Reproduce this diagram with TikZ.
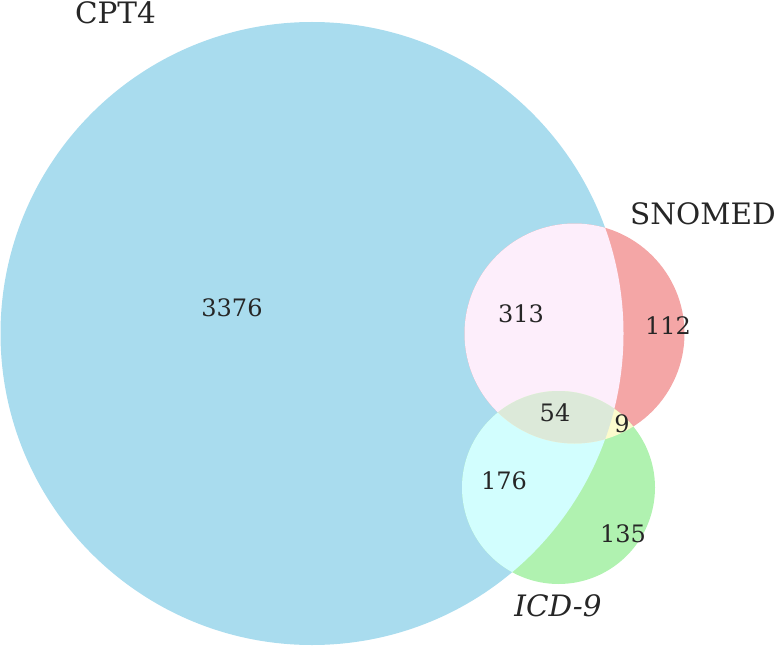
\documentclass[tikz,border=0pt]{standalone}
\usepackage{fontspec}
\setmainfont{DejaVu Serif}
\definecolor{cptc}{HTML}{A9DCEE}
\definecolor{snoc}{HTML}{F4A6A6}
\definecolor{icdc}{HTML}{B0F2B0}
\definecolor{cpsn}{HTML}{FDEEFB}
\definecolor{cpic}{HTML}{D2FEFE}
\definecolor{snic}{HTML}{FCFBCD}
\definecolor{allc}{HTML}{DCE9D9}
\definecolor{txtc}{HTML}{262626}
\tikzset{
  setlabel/.style={inner sep=0pt, anchor=center, text=txtc, font=\fontsize{29.5}{32}\selectfont},
  numlabel/.style={inner sep=0pt, anchor=center, text=txtc, font=\fontsize{24}{26}\selectfont}
}
\begin{document}
\begin{tikzpicture}[x=1pt,y=-1pt]
\useasboundingbox (0,0) rectangle (776,647);
\def\cptcirc{(312,333.5) circle[radius=311.5]}
\def\snocirc{(574.5,333.5) circle[radius=110]}
\def\icdcirc{(558.5,487.5) circle[radius=96.5]}
% base circles
\fill[cptc] \cptcirc;
\fill[snoc] \snocirc;
\fill[icdc] \icdcirc;
% pairwise
\begin{scope}
  \clip \cptcirc;
  \fill[cpsn] \snocirc;
  \fill[cpic] \icdcirc;
\end{scope}
\begin{scope}
  \clip \snocirc;
  \fill[snic] \icdcirc;
\end{scope}
% triple
\begin{scope}
  \clip \cptcirc;
  \clip \snocirc;
  \fill[allc] \icdcirc;
\end{scope}
% labels
\node[setlabel] (cpt) at (115.5,13) {CPT4};
\node[setlabel] (sno) at (703,214) {SNOMED};
\node[setlabel, font=\fontsize{29.5}{32}\selectfont\itshape] (icd) at (558,606) {ICD-9};
\node[numlabel] (n3376) at (232,308) {3376};
\node[numlabel] (n313) at (521,314) {313};
\node[numlabel] (n112) at (668,326) {112};
\node[numlabel] (n54) at (555,413) {54};
\node[numlabel] (n9) at (622,424) {9};
\node[numlabel] (n176) at (504,481) {176};
\node[numlabel] (n135) at (623,534) {135};
\end{tikzpicture}
\end{document}
